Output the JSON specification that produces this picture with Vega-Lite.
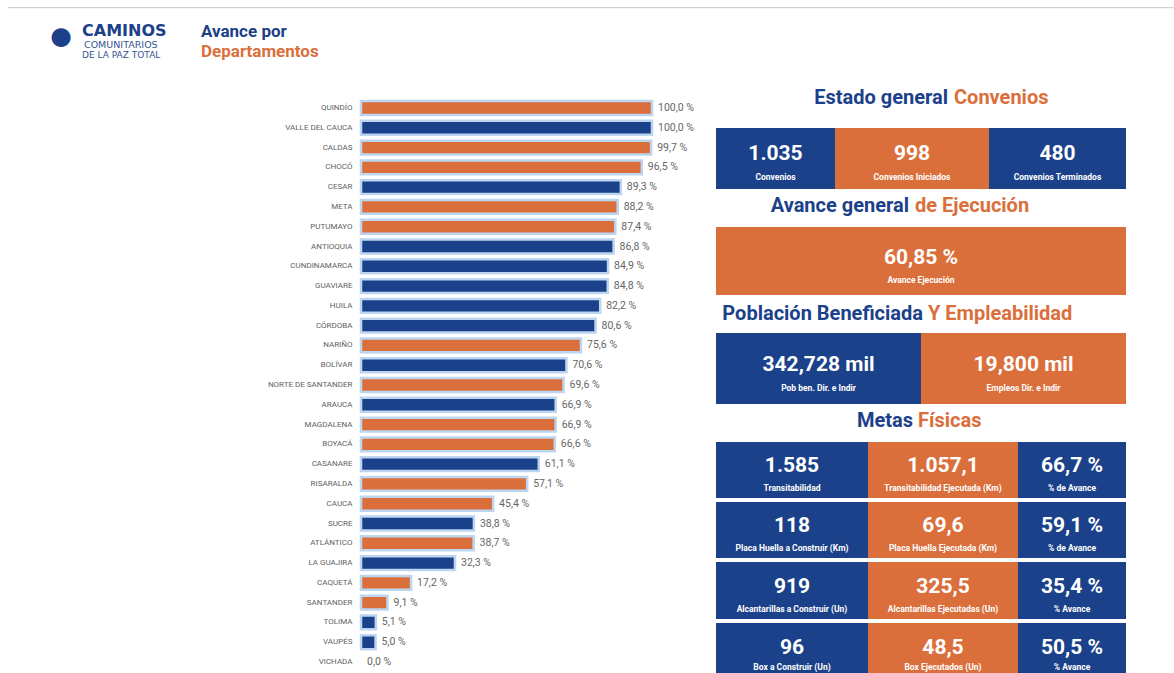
{
  "$schema": "https://vega.github.io/schema/vega-lite/v6.json",
  "padding": {"left": 8, "top": 7, "right": 0, "bottom": 0},
  "autosize": {"type": "pad"},
  "background": "white",
  "spacing": 0,
  "config": {
    "view": {"stroke": null},
    "font": "Roboto",
    "locale": {
      "number": {"decimal": ",", "thousands": ".", "grouping": [3], "currency": ["", " mil"], "percent": "\u00a0%"}
    }
  },
  "vconcat": [
    {
      "width": 1166,
      "height": 78,
      "data": {"values": [{}]},
      "layer": [
        {"mark": {"type": "rect", "color": "#d2d2d2"}, "encoding": {"y": {"datum": 1, "type": "quantitative", "scale": {"domain": [0, 1]}, "axis": null}, "y2": {"datum": 0.983}}},
        {"mark": {"type": "text", "text": "●", "fontSize": 44, "color": "#1B418A", "align": "center", "baseline": "middle", "dx": -530, "dy": -9}, "encoding": {}},
        {"mark": {"type": "text", "text": "CAMINOS", "font": "DejaVu Sans", "fontWeight": "bold", "fontSize": 16, "color": "#1B418A", "align": "left", "baseline": "middle", "dx": -509, "dy": -15.5}, "encoding": {}},
        {"mark": {"type": "text", "text": "COMUNITARIOS", "font": "DejaVu Sans", "fontSize": 9.5, "color": "#34558f", "align": "left", "baseline": "middle", "dx": -507, "dy": -1}, "encoding": {}},
        {"mark": {"type": "text", "text": "DE LA PAZ TOTAL", "font": "DejaVu Sans", "fontSize": 9, "color": "#34558f", "align": "left", "baseline": "middle", "dx": -509, "dy": 8.5}, "encoding": {}},
        {"mark": {"type": "text", "text": "Avance por", "font": "Roboto", "fontWeight": "bold", "fontSize": 17, "color": "#1B418A", "align": "left", "baseline": "middle", "dx": -390, "dy": -14}, "encoding": {}},
        {"mark": {"type": "text", "text": "Departamentos", "font": "Roboto", "fontWeight": "bold", "fontSize": 17, "color": "#DB6F3C", "align": "left", "baseline": "middle", "dx": -390, "dy": 5.5}, "encoding": {}}
      ]
    },
    {
      "hconcat": [
        {
          "width": 702,
          "height": 588,
          "data": {
            "values": [
              {"departamento": "QUINDÍO", "avance": 1.0, "grupo": "naranja"},
              {"departamento": "VALLE DEL CAUCA", "avance": 1.0, "grupo": "azul"},
              {"departamento": "CALDAS", "avance": 0.997, "grupo": "naranja"},
              {"departamento": "CHOCÓ", "avance": 0.965, "grupo": "naranja"},
              {"departamento": "CESAR", "avance": 0.893, "grupo": "azul"},
              {"departamento": "META", "avance": 0.882, "grupo": "naranja"},
              {"departamento": "PUTUMAYO", "avance": 0.874, "grupo": "naranja"},
              {"departamento": "ANTIOQUIA", "avance": 0.868, "grupo": "azul"},
              {"departamento": "CUNDINAMARCA", "avance": 0.849, "grupo": "azul"},
              {"departamento": "GUAVIARE", "avance": 0.848, "grupo": "azul"},
              {"departamento": "HUILA", "avance": 0.822, "grupo": "azul"},
              {"departamento": "CÓRDOBA", "avance": 0.806, "grupo": "azul"},
              {"departamento": "NARIÑO", "avance": 0.756, "grupo": "naranja"},
              {"departamento": "BOLÍVAR", "avance": 0.706, "grupo": "azul"},
              {"departamento": "NORTE DE SANTANDER", "avance": 0.696, "grupo": "naranja"},
              {"departamento": "ARAUCA", "avance": 0.669, "grupo": "azul"},
              {"departamento": "MAGDALENA", "avance": 0.669, "grupo": "naranja"},
              {"departamento": "BOYACÁ", "avance": 0.666, "grupo": "naranja"},
              {"departamento": "CASANARE", "avance": 0.611, "grupo": "azul"},
              {"departamento": "RISARALDA", "avance": 0.571, "grupo": "naranja"},
              {"departamento": "CAUCA", "avance": 0.454, "grupo": "naranja"},
              {"departamento": "SUCRE", "avance": 0.388, "grupo": "azul"},
              {"departamento": "ATLÁNTICO", "avance": 0.387, "grupo": "naranja"},
              {"departamento": "LA GUAJIRA", "avance": 0.323, "grupo": "azul"},
              {"departamento": "CAQUETÁ", "avance": 0.172, "grupo": "naranja"},
              {"departamento": "SANTANDER", "avance": 0.091, "grupo": "naranja"},
              {"departamento": "TOLIMA", "avance": 0.051, "grupo": "azul"},
              {"departamento": "VAUPÉS", "avance": 0.05, "grupo": "azul"},
              {"departamento": "VICHADA", "avance": 0.0, "grupo": "azul"}
            ]
          },
          "encoding": {
            "y": {
              "field": "departamento", "type": "nominal", "sort": null,
              "scale": {"paddingInner": 0.3, "paddingOuter": 0.509, "align": 0.798},
              "axis": {"title": null, "domain": false, "ticks": false, "grid": false, "offset": -353, "labelPadding": 9, "labelFont": "Roboto", "labelFontSize": 8, "labelColor": "#5f5f5f", "labelLimit": 0}
            }
          },
          "layer": [
            {
              "transform": [{"filter": "datum.avance > 0"}],
              "mark": {"type": "bar", "stroke": "#bcd5f1", "strokeWidth": 2.5},
              "encoding": {
                "x": {"field": "avance", "type": "quantitative", "scale": {"domain": [-1.2131, 1.1993], "nice": false, "zero": false}, "axis": null},
                "x2": {"datum": 0},
                "color": {"field": "grupo", "type": "nominal", "scale": {"domain": ["naranja", "azul"], "range": ["#DB6F3C", "#1B418A"]}, "legend": null}
              }
            },
            {
              "mark": {"type": "text", "align": "left", "baseline": "middle", "dx": 6, "font": "Roboto", "fontSize": 10.5, "color": "#666666"},
              "encoding": {
                "x": {"field": "avance", "type": "quantitative"},
                "text": {"field": "avance", "type": "quantitative", "format": ".1%"}
              }
            }
          ]
        },
        {
          "spacing": 0,
          "vconcat": [
            {
              "width": 410, "height": 43, "data": {"values": [{}]},
              "layer": [
                {"mark": {"type": "text", "text": "Estado general", "fontWeight": "bold", "fontSize": 20, "color": "#1B418A", "align": "right", "baseline": "middle", "dx": 27, "dy": -9}, "encoding": {}},
                {"mark": {"type": "text", "text": "Convenios", "fontWeight": "bold", "fontSize": 20, "color": "#DB6F3C", "align": "left", "baseline": "middle", "dx": 33, "dy": -9}, "encoding": {}}
              ]
            },
            {
              "spacing": 0,
              "hconcat": [
                {
                  "width": 119, "height": 61, "view": {"fill": "#1B418A"},
                  "data": {"values": [{"valor": 1035, "etiqueta": "Convenios"}]},
                  "layer": [
                    {"mark": {"type": "text", "fontWeight": "bold", "fontSize": 21, "color": "white", "baseline": "middle", "dy": -5}, "encoding": {"text": {"field": "valor", "type": "quantitative", "format": ",d"}}},
                    {"mark": {"type": "text", "fontWeight": "bold", "fontSize": 8.5, "color": "white", "baseline": "middle", "dy": 18.5}, "encoding": {"text": {"field": "etiqueta", "type": "nominal"}}}
                  ]
                },
                {
                  "width": 154, "height": 61, "view": {"fill": "#DB6F3C"},
                  "data": {"values": [{"valor": 998, "etiqueta": "Convenios Iniciados"}]},
                  "layer": [
                    {"mark": {"type": "text", "fontWeight": "bold", "fontSize": 21, "color": "white", "baseline": "middle", "dy": -5}, "encoding": {"text": {"field": "valor", "type": "quantitative", "format": ",d"}}},
                    {"mark": {"type": "text", "fontWeight": "bold", "fontSize": 8.5, "color": "white", "baseline": "middle", "dy": 18.5}, "encoding": {"text": {"field": "etiqueta", "type": "nominal"}}}
                  ]
                },
                {
                  "width": 137, "height": 61, "view": {"fill": "#1B418A"},
                  "data": {"values": [{"valor": 480, "etiqueta": "Convenios Terminados"}]},
                  "layer": [
                    {"mark": {"type": "text", "fontWeight": "bold", "fontSize": 21, "color": "white", "baseline": "middle", "dy": -5}, "encoding": {"text": {"field": "valor", "type": "quantitative", "format": ",d"}}},
                    {"mark": {"type": "text", "fontWeight": "bold", "fontSize": 8.5, "color": "white", "baseline": "middle", "dy": 18.5}, "encoding": {"text": {"field": "etiqueta", "type": "nominal"}}}
                  ]
                }
              ]
            },
            {
              "width": 410, "height": 38, "data": {"values": [{}]},
              "layer": [
                {"mark": {"type": "text", "text": "Avance general", "fontWeight": "bold", "fontSize": 20, "color": "#1B418A", "align": "right", "baseline": "middle", "dx": -12, "dy": -2}, "encoding": {}},
                {"mark": {"type": "text", "text": "de Ejecución", "fontWeight": "bold", "fontSize": 20, "color": "#DB6F3C", "align": "left", "baseline": "middle", "dx": -6, "dy": -2}, "encoding": {}}
              ]
            },
            {
              "width": 410, "height": 68, "view": {"fill": "#DB6F3C"},
              "data": {"values": [{"valor": 0.6085, "etiqueta": "Avance Ejecución"}]},
              "layer": [
                {"mark": {"type": "text", "fontWeight": "bold", "fontSize": 21, "color": "white", "baseline": "middle", "dy": -3.5}, "encoding": {"text": {"field": "valor", "type": "quantitative", "format": ".2%"}}},
                {"mark": {"type": "text", "fontWeight": "bold", "fontSize": 8.5, "color": "white", "baseline": "middle", "dy": 19}, "encoding": {"text": {"field": "etiqueta", "type": "nominal"}}}
              ]
            },
            {
              "width": 410, "height": 38, "data": {"values": [{}]},
              "layer": [
                {"mark": {"type": "text", "text": "Población Beneficiada", "fontWeight": "bold", "fontSize": 20, "color": "#1B418A", "align": "right", "baseline": "middle", "dx": 2, "dy": 0}, "encoding": {}},
                {"mark": {"type": "text", "text": "Y Empleabilidad", "fontWeight": "bold", "fontSize": 20, "color": "#DB6F3C", "align": "left", "baseline": "middle", "dx": 7, "dy": 0}, "encoding": {}}
              ]
            },
            {
              "spacing": 0,
              "hconcat": [
                {
                  "width": 205, "height": 71, "view": {"fill": "#1B418A"},
                  "data": {"values": [{"valor": 342.728, "etiqueta": "Pob ben. Dir. e Indir"}]},
                  "layer": [
                    {"mark": {"type": "text", "fontWeight": "bold", "fontSize": 21, "color": "white", "baseline": "middle", "dy": -3.5}, "encoding": {"text": {"field": "valor", "type": "quantitative", "format": "$.3f"}}},
                    {"mark": {"type": "text", "fontWeight": "bold", "fontSize": 8.5, "color": "white", "baseline": "middle", "dy": 19}, "encoding": {"text": {"field": "etiqueta", "type": "nominal"}}}
                  ]
                },
                {
                  "width": 205, "height": 71, "view": {"fill": "#DB6F3C"},
                  "data": {"values": [{"valor": 19.8, "etiqueta": "Empleos Dir. e Indir"}]},
                  "layer": [
                    {"mark": {"type": "text", "fontWeight": "bold", "fontSize": 21, "color": "white", "baseline": "middle", "dy": -3.5}, "encoding": {"text": {"field": "valor", "type": "quantitative", "format": "$.3f"}}},
                    {"mark": {"type": "text", "fontWeight": "bold", "fontSize": 8.5, "color": "white", "baseline": "middle", "dy": 19}, "encoding": {"text": {"field": "etiqueta", "type": "nominal"}}}
                  ]
                }
              ]
            },
            {
              "width": 410, "height": 38, "data": {"values": [{}]},
              "layer": [
                {"mark": {"type": "text", "text": "Metas", "fontWeight": "bold", "fontSize": 20, "color": "#1B418A", "align": "right", "baseline": "middle", "dx": -8, "dy": -2}, "encoding": {}},
                {"mark": {"type": "text", "text": "Físicas", "fontWeight": "bold", "fontSize": 20, "color": "#DB6F3C", "align": "left", "baseline": "middle", "dx": -3, "dy": -2}, "encoding": {}}
              ]
            },
            {
              "spacing": 4,
              "vconcat": [
                {
                  "spacing": 0,
                  "hconcat": [
                    {"width": 152, "height": 56, "view": {"fill": "#1B418A"}, "data": {"values": [{"valor": 1585, "etiqueta": "Transitabilidad"}]},
                     "layer": [
                       {"mark": {"type": "text", "fontWeight": "bold", "fontSize": 21, "color": "white", "baseline": "middle", "dy": -4}, "encoding": {"text": {"field": "valor", "type": "quantitative", "format": ",d"}}},
                       {"mark": {"type": "text", "fontWeight": "bold", "fontSize": 8.5, "color": "white", "baseline": "middle", "dy": 18}, "encoding": {"text": {"field": "etiqueta", "type": "nominal"}}}
                     ]},
                    {"width": 150, "height": 56, "view": {"fill": "#DB6F3C"}, "data": {"values": [{"valor": 1057.1, "etiqueta": "Transitabilidad Ejecutada (Km)"}]},
                     "layer": [
                       {"mark": {"type": "text", "fontWeight": "bold", "fontSize": 21, "color": "white", "baseline": "middle", "dy": -4}, "encoding": {"text": {"field": "valor", "type": "quantitative", "format": ",.1f"}}},
                       {"mark": {"type": "text", "fontWeight": "bold", "fontSize": 8.5, "color": "white", "baseline": "middle", "dy": 18}, "encoding": {"text": {"field": "etiqueta", "type": "nominal"}}}
                     ]},
                    {"width": 108, "height": 56, "view": {"fill": "#1B418A"}, "data": {"values": [{"valor": 0.667, "etiqueta": "% de Avance"}]},
                     "layer": [
                       {"mark": {"type": "text", "fontWeight": "bold", "fontSize": 21, "color": "white", "baseline": "middle", "dy": -4}, "encoding": {"text": {"field": "valor", "type": "quantitative", "format": ".1%"}}},
                       {"mark": {"type": "text", "fontWeight": "bold", "fontSize": 8.5, "color": "white", "baseline": "middle", "dy": 18}, "encoding": {"text": {"field": "etiqueta", "type": "nominal"}}}
                     ]}
                  ]
                },
                {
                  "spacing": 0,
                  "hconcat": [
                    {"width": 152, "height": 56, "view": {"fill": "#1B418A"}, "data": {"values": [{"valor": 118, "etiqueta": "Placa Huella a Construir (Km)"}]},
                     "layer": [
                       {"mark": {"type": "text", "fontWeight": "bold", "fontSize": 21, "color": "white", "baseline": "middle", "dy": -4}, "encoding": {"text": {"field": "valor", "type": "quantitative", "format": ",d"}}},
                       {"mark": {"type": "text", "fontWeight": "bold", "fontSize": 8.5, "color": "white", "baseline": "middle", "dy": 17.7}, "encoding": {"text": {"field": "etiqueta", "type": "nominal"}}}
                     ]},
                    {"width": 150, "height": 56, "view": {"fill": "#DB6F3C"}, "data": {"values": [{"valor": 69.6, "etiqueta": "Placa Huella Ejecutada (Km)"}]},
                     "layer": [
                       {"mark": {"type": "text", "fontWeight": "bold", "fontSize": 21, "color": "white", "baseline": "middle", "dy": -4}, "encoding": {"text": {"field": "valor", "type": "quantitative", "format": ",.1f"}}},
                       {"mark": {"type": "text", "fontWeight": "bold", "fontSize": 8.5, "color": "white", "baseline": "middle", "dy": 17.7}, "encoding": {"text": {"field": "etiqueta", "type": "nominal"}}}
                     ]},
                    {"width": 108, "height": 56, "view": {"fill": "#1B418A"}, "data": {"values": [{"valor": 0.591, "etiqueta": "% de Avance"}]},
                     "layer": [
                       {"mark": {"type": "text", "fontWeight": "bold", "fontSize": 21, "color": "white", "baseline": "middle", "dy": -4}, "encoding": {"text": {"field": "valor", "type": "quantitative", "format": ".1%"}}},
                       {"mark": {"type": "text", "fontWeight": "bold", "fontSize": 8.5, "color": "white", "baseline": "middle", "dy": 17.7}, "encoding": {"text": {"field": "etiqueta", "type": "nominal"}}}
                     ]}
                  ]
                },
                {
                  "spacing": 0,
                  "hconcat": [
                    {"width": 152, "height": 57, "view": {"fill": "#1B418A"}, "data": {"values": [{"valor": 919, "etiqueta": "Alcantarillas a Construir (Un)"}]},
                     "layer": [
                       {"mark": {"type": "text", "fontWeight": "bold", "fontSize": 21, "color": "white", "baseline": "middle", "dy": -3.5}, "encoding": {"text": {"field": "valor", "type": "quantitative", "format": ",d"}}},
                       {"mark": {"type": "text", "fontWeight": "bold", "fontSize": 8.5, "color": "white", "baseline": "middle", "dy": 18.5}, "encoding": {"text": {"field": "etiqueta", "type": "nominal"}}}
                     ]},
                    {"width": 150, "height": 57, "view": {"fill": "#DB6F3C"}, "data": {"values": [{"valor": 325.5, "etiqueta": "Alcantarillas Ejecutadas (Un)"}]},
                     "layer": [
                       {"mark": {"type": "text", "fontWeight": "bold", "fontSize": 21, "color": "white", "baseline": "middle", "dy": -3.5}, "encoding": {"text": {"field": "valor", "type": "quantitative", "format": ",.1f"}}},
                       {"mark": {"type": "text", "fontWeight": "bold", "fontSize": 8.5, "color": "white", "baseline": "middle", "dy": 18.5}, "encoding": {"text": {"field": "etiqueta", "type": "nominal"}}}
                     ]},
                    {"width": 108, "height": 57, "view": {"fill": "#1B418A"}, "data": {"values": [{"valor": 0.354, "etiqueta": "% Avance"}]},
                     "layer": [
                       {"mark": {"type": "text", "fontWeight": "bold", "fontSize": 21, "color": "white", "baseline": "middle", "dy": -3.5}, "encoding": {"text": {"field": "valor", "type": "quantitative", "format": ".1%"}}},
                       {"mark": {"type": "text", "fontWeight": "bold", "fontSize": 8.5, "color": "white", "baseline": "middle", "dy": 18.5}, "encoding": {"text": {"field": "etiqueta", "type": "nominal"}}}
                     ]}
                  ]
                },
                {
                  "spacing": 0,
                  "hconcat": [
                    {"width": 152, "height": 50, "view": {"fill": "#1B418A"}, "data": {"values": [{"valor": 96, "etiqueta": "Box a Construir (Un)"}]},
                     "layer": [
                       {"mark": {"type": "text", "fontWeight": "bold", "fontSize": 21, "color": "white", "baseline": "middle", "dy": -0.5}, "encoding": {"text": {"field": "valor", "type": "quantitative", "format": ",d"}}},
                       {"mark": {"type": "text", "fontWeight": "bold", "fontSize": 8.5, "color": "white", "baseline": "middle", "dy": 19}, "encoding": {"text": {"field": "etiqueta", "type": "nominal"}}}
                     ]},
                    {"width": 150, "height": 50, "view": {"fill": "#DB6F3C"}, "data": {"values": [{"valor": 48.5, "etiqueta": "Box Ejecutados (Un)"}]},
                     "layer": [
                       {"mark": {"type": "text", "fontWeight": "bold", "fontSize": 21, "color": "white", "baseline": "middle", "dy": -0.5}, "encoding": {"text": {"field": "valor", "type": "quantitative", "format": ",.1f"}}},
                       {"mark": {"type": "text", "fontWeight": "bold", "fontSize": 8.5, "color": "white", "baseline": "middle", "dy": 19}, "encoding": {"text": {"field": "etiqueta", "type": "nominal"}}}
                     ]},
                    {"width": 108, "height": 50, "view": {"fill": "#1B418A"}, "data": {"values": [{"valor": 0.505, "etiqueta": "% Avance"}]},
                     "layer": [
                       {"mark": {"type": "text", "fontWeight": "bold", "fontSize": 21, "color": "white", "baseline": "middle", "dy": -0.5}, "encoding": {"text": {"field": "valor", "type": "quantitative", "format": ".1%"}}},
                       {"mark": {"type": "text", "fontWeight": "bold", "fontSize": 8.5, "color": "white", "baseline": "middle", "dy": 19}, "encoding": {"text": {"field": "etiqueta", "type": "nominal"}}}
                     ]}
                  ]
                }
              ]
            }
          ]
        }
      ],
      "spacing": 6
    }
  ]
}
